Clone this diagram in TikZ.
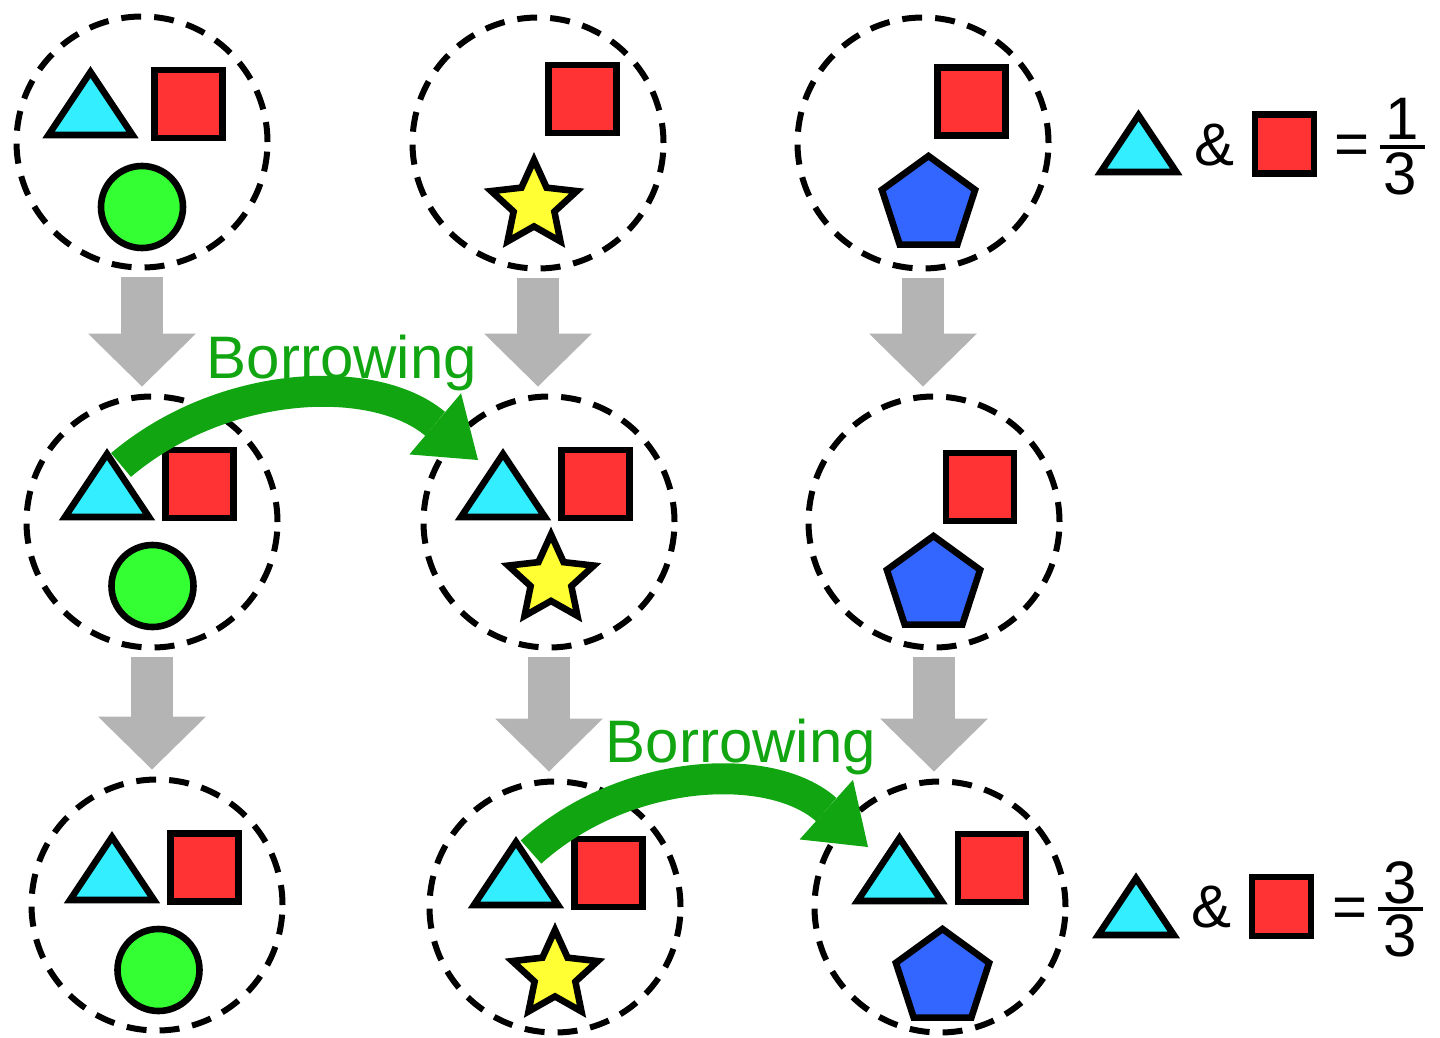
\documentclass[tikz,border=0pt]{standalone}
\usepackage{fontspec}
\setmainfont{Liberation Sans}
\usetikzlibrary{shapes.geometric,arrows.meta}
\definecolor{tricyan}{RGB}{51,238,255}
\definecolor{sqred}{RGB}{255,51,51}
\definecolor{dotgreen}{RGB}{51,255,51}
\definecolor{staryellow}{RGB}{255,255,51}
\definecolor{pentblue}{RGB}{51,102,255}
\definecolor{flowgray}{RGB}{180,180,180}
\definecolor{borrowgreen}{RGB}{17,166,17}
\begin{document}
\begin{tikzpicture}[x=0.5pt,y=-0.5pt,
  cell/.style={draw, circle, dash pattern=on 10pt off 6.5pt, line width=3pt, minimum size=125.5pt, inner sep=0pt},
  shapeline/.style={draw, line width=3.3pt, line join=miter},
  sq/.style={shapeline, rectangle, fill=sqred, minimum size=34pt, inner sep=0pt},
  dot/.style={shapeline, circle, fill=dotgreen, minimum size=41pt, inner sep=0pt},
  starry/.style={shapeline, star, star points=5, star point ratio=2.1, fill=staryellow, minimum size=45pt, inner sep=0pt},
  penta/.style={shapeline, regular polygon, regular polygon sides=5, fill=pentblue, minimum size=49pt, inner sep=0pt},
  tri/.pic={\draw[shapeline, fill=tricyan] (-42,0) -- (42,0) -- (0,-63) -- cycle; \coordinate (-top) at (0,-63);},
  flow/.style={draw=flowgray, line width=21pt, -{Triangle[length=26.5pt,width=54pt,line width=0pt]}, shorten <=3pt, shorten >=3.5pt},
  borrow/.style={draw=borrowgreen, line width=15.5pt, -{Triangle[length=28pt,width=40pt,line width=0pt]}},
  word/.style={font=\fontsize{30}{36}\selectfont, anchor=base, inner sep=0pt},
  fracbar/.style={line width=2pt}]
\useasboundingbox (0,0) rectangle (1440,1038);
\node[cell] (c11) at (142,142) {};
\node[cell] (c12) at (538,143) {};
\node[cell] (c13) at (923,143) {};
\node[cell] (c21) at (152,522) {};
\node[cell] (c22) at (549,522) {};
\node[cell] (c23) at (934,522) {};
\node[cell] (c31) at (157,905) {};
\node[cell] (c32) at (555,907) {};
\node[cell] (c33) at (940,907) {};
\pic (t11) at (90.5,135) {tri};
\pic (t21) at (107,517) {tri};
\pic (t22) at (503,517) {tri};
\pic (t31) at (112,900) {tri};
\pic (t32) at (516,905) {tri};
\pic (t33) at (899.5,901) {tri};
\node[sq] (s11) at (188.5,104) {};
\node[sq] (s12) at (582.5,99) {};
\node[sq] (s13) at (971.5,101.5) {};
\node[sq] (s21) at (199.5,484) {};
\node[sq] (s22) at (595.5,484) {};
\node[sq] (s23) at (980,487) {};
\node[sq] (s31) at (204.5,867.5) {};
\node[sq] (s32) at (608.5,873) {};
\node[sq] (s33) at (992,868) {};
\node[dot] (d11) at (142,207) {};
\node[dot] (d21) at (152.5,586) {};
\node[dot] (d31) at (158.5,970) {};
\node[starry] (st12) at (534,205) {};
\node[starry] (st22) at (551,579.5) {};
\node[starry] (st32) at (555,975) {};
\node[penta] (p13) at (928.5,205) {};
\node[penta] (p23) at (933.5,585) {};
\node[penta] (p33) at (942.5,978) {};
\draw[flow] (c11) -- (c11 |- c21.north);
\draw[flow] (c12) -- (c12 |- c22.north);
\draw[flow] (c13) -- (c13 |- c23.north);
\draw[flow] (c21) -- (c21 |- c31.north);
\draw[flow] (c22) -- (c22 |- c32.north);
\draw[flow] (c23) -- (c23 |- c33.north);
\draw[borrow] ([xshift=7pt,yshift=-5.5pt]t21-top) .. controls +(103,-87) and +(-103,-87) .. ([xshift=-12.5pt,yshift=-3pt]t22-top);
\draw[borrow] ([xshift=7.5pt,yshift=-5pt]t32-top) .. controls +(96,-86) and +(-96,-86) .. ([xshift=-15.75pt,yshift=-4.5pt]t33-top);
\node[word, text=borrowgreen] (lab1) at (342,378) {Borrowing};
\node[word, text=borrowgreen] (lab2) at (741,762) {Borrowing};
\pic[scale=0.9] (tl1) at (1138.5,172) {tri};
\node[sq, minimum size=29.5pt] (sl1) at (1284.5,144) {};
\node[word] (amp1) at (1214,165) {\&};
\node[word] (eq1) at (1352,164) {=};
\node[word] (num1) at (1402,140) {1};
\node[word] (den1) at (1400,194) {3};
\draw[fracbar] (1380,147) -- (1425,147);
\pic[scale=0.9] (tl2) at (1136,935) {tri};
\node[sq, minimum size=29.5pt] (sl2) at (1281.5,906.5) {};
\node[word] (amp2) at (1211,927) {\&};
\node[word] (eq2) at (1350,927) {=};
\node[word] (num2) at (1400,903) {3};
\node[word] (den2) at (1400,956) {3};
\draw[fracbar] (1378,909) -- (1423,909);
\end{tikzpicture}
\end{document}
